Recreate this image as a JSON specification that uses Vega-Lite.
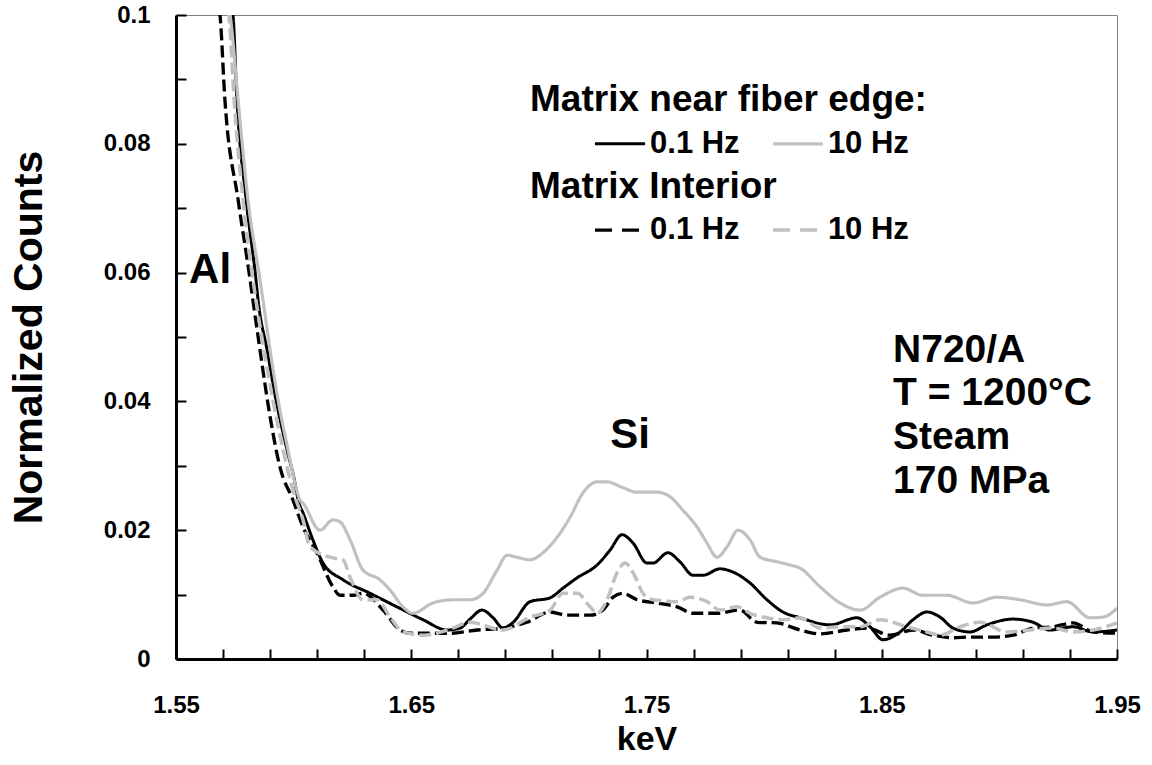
{
  "$schema": "https://vega.github.io/schema/vega-lite/v6.json",
  "width": 941,
  "height": 644,
  "autosize": "none",
  "padding": {"left": 176, "top": 15, "right": 35, "bottom": 106},
  "background": "white",
  "config": {
    "view": {"stroke": "#808080", "strokeWidth": 1},
    "font": "Liberation Sans",
    "axis": {"grid": false}
  },
  "datasets": {
    "spectra": [
      {"series": "e01", "keV": 1.5721, "counts": 0.1031},
      {"series": "e01", "keV": 1.5742, "counts": 0.1000},
      {"series": "e01", "keV": 1.5759, "counts": 0.0868},
      {"series": "e01", "keV": 1.5798, "counts": 0.0713},
      {"series": "e01", "keV": 1.5840, "counts": 0.0589},
      {"series": "e01", "keV": 1.5849, "counts": 0.0557},
      {"series": "e01", "keV": 1.5887, "counts": 0.0480},
      {"series": "e01", "keV": 1.5925, "counts": 0.0402},
      {"series": "e01", "keV": 1.5972, "counts": 0.0325},
      {"series": "e01", "keV": 1.6006, "counts": 0.0273},
      {"series": "e01", "keV": 1.6019, "counts": 0.0247},
      {"series": "e01", "keV": 1.6040, "counts": 0.0227},
      {"series": "e01", "keV": 1.6082, "counts": 0.0185},
      {"series": "e01", "keV": 1.6125, "counts": 0.0149},
      {"series": "e01", "keV": 1.6210, "counts": 0.0123},
      {"series": "e01", "keV": 1.6325, "counts": 0.0102},
      {"series": "e01", "keV": 1.6439, "counts": 0.0081},
      {"series": "e01", "keV": 1.6550, "counts": 0.0061},
      {"series": "e01", "keV": 1.6652, "counts": 0.0045},
      {"series": "e01", "keV": 1.6707, "counts": 0.0048},
      {"series": "e01", "keV": 1.6750, "counts": 0.0062},
      {"series": "e01", "keV": 1.6801, "counts": 0.0076},
      {"series": "e01", "keV": 1.6848, "counts": 0.0064},
      {"series": "e01", "keV": 1.6890, "counts": 0.0048},
      {"series": "e01", "keV": 1.6933, "counts": 0.0057},
      {"series": "e01", "keV": 1.7005, "counts": 0.0089},
      {"series": "e01", "keV": 1.7090, "counts": 0.0095},
      {"series": "e01", "keV": 1.7145, "counts": 0.0110},
      {"series": "e01", "keV": 1.7205, "counts": 0.0126},
      {"series": "e01", "keV": 1.7290, "counts": 0.0146},
      {"series": "e01", "keV": 1.7345, "counts": 0.0169},
      {"series": "e01", "keV": 1.7396, "counts": 0.0193},
      {"series": "e01", "keV": 1.7443, "counts": 0.0180},
      {"series": "e01", "keV": 1.7502, "counts": 0.0149},
      {"series": "e01", "keV": 1.7528, "counts": 0.0149},
      {"series": "e01", "keV": 1.7591, "counts": 0.0165},
      {"series": "e01", "keV": 1.7642, "counts": 0.0151},
      {"series": "e01", "keV": 1.7698, "counts": 0.0130},
      {"series": "e01", "keV": 1.7740, "counts": 0.0130},
      {"series": "e01", "keV": 1.7812, "counts": 0.0140},
      {"series": "e01", "keV": 1.7868, "counts": 0.0135},
      {"series": "e01", "keV": 1.7940, "counts": 0.0118},
      {"series": "e01", "keV": 1.8012, "counts": 0.0092},
      {"series": "e01", "keV": 1.8080, "counts": 0.0073},
      {"series": "e01", "keV": 1.8153, "counts": 0.0064},
      {"series": "e01", "keV": 1.8280, "counts": 0.0053},
      {"series": "e01", "keV": 1.8395, "counts": 0.0064},
      {"series": "e01", "keV": 1.8450, "counts": 0.0050},
      {"series": "e01", "keV": 1.8505, "counts": 0.0030},
      {"series": "e01", "keV": 1.8578, "counts": 0.0042},
      {"series": "e01", "keV": 1.8633, "counts": 0.0061},
      {"series": "e01", "keV": 1.8692, "counts": 0.0073},
      {"series": "e01", "keV": 1.8748, "counts": 0.0065},
      {"series": "e01", "keV": 1.8803, "counts": 0.0048},
      {"series": "e01", "keV": 1.8875, "counts": 0.0042},
      {"series": "e01", "keV": 1.8947, "counts": 0.0053},
      {"series": "e01", "keV": 1.9058, "counts": 0.0062},
      {"series": "e01", "keV": 1.9143, "counts": 0.0057},
      {"series": "e01", "keV": 1.9215, "counts": 0.0045},
      {"series": "e01", "keV": 1.9313, "counts": 0.0050},
      {"series": "e01", "keV": 1.9398, "counts": 0.0042},
      {"series": "e01", "keV": 1.9500, "counts": 0.0045},

      {"series": "e10", "keV": 1.5713, "counts": 0.1031},
      {"series": "e10", "keV": 1.5730, "counts": 0.1000},
      {"series": "e10", "keV": 1.5764, "counts": 0.0868},
      {"series": "e10", "keV": 1.5806, "counts": 0.0713},
      {"series": "e10", "keV": 1.5857, "counts": 0.0589},
      {"series": "e10", "keV": 1.5870, "counts": 0.0557},
      {"series": "e10", "keV": 1.5900, "counts": 0.0480},
      {"series": "e10", "keV": 1.5934, "counts": 0.0402},
      {"series": "e10", "keV": 1.5976, "counts": 0.0325},
      {"series": "e10", "keV": 1.6006, "counts": 0.0273},
      {"series": "e10", "keV": 1.6027, "counts": 0.0247},
      {"series": "e10", "keV": 1.6040, "counts": 0.0242},
      {"series": "e10", "keV": 1.6112, "counts": 0.0200},
      {"series": "e10", "keV": 1.6167, "counts": 0.0216},
      {"series": "e10", "keV": 1.6197, "counts": 0.0213},
      {"series": "e10", "keV": 1.6240, "counts": 0.0185},
      {"series": "e10", "keV": 1.6295, "counts": 0.0138},
      {"series": "e10", "keV": 1.6367, "counts": 0.0123},
      {"series": "e10", "keV": 1.6410, "counts": 0.0107},
      {"series": "e10", "keV": 1.6465, "counts": 0.0081},
      {"series": "e10", "keV": 1.6507, "counts": 0.0071},
      {"series": "e10", "keV": 1.6592, "counts": 0.0087},
      {"series": "e10", "keV": 1.6677, "counts": 0.0092},
      {"series": "e10", "keV": 1.6750, "counts": 0.0092},
      {"series": "e10", "keV": 1.6805, "counts": 0.0102},
      {"series": "e10", "keV": 1.6865, "counts": 0.0138},
      {"series": "e10", "keV": 1.6907, "counts": 0.0161},
      {"series": "e10", "keV": 1.6950, "counts": 0.0158},
      {"series": "e10", "keV": 1.7005, "counts": 0.0154},
      {"series": "e10", "keV": 1.7060, "counts": 0.0165},
      {"series": "e10", "keV": 1.7120, "counts": 0.0189},
      {"series": "e10", "keV": 1.7175, "counts": 0.0220},
      {"series": "e10", "keV": 1.7230, "counts": 0.0258},
      {"series": "e10", "keV": 1.7290, "counts": 0.0275},
      {"series": "e10", "keV": 1.7332, "counts": 0.0275},
      {"series": "e10", "keV": 1.7400, "counts": 0.0266},
      {"series": "e10", "keV": 1.7460, "counts": 0.0259},
      {"series": "e10", "keV": 1.7545, "counts": 0.0259},
      {"series": "e10", "keV": 1.7600, "counts": 0.0252},
      {"series": "e10", "keV": 1.7655, "counts": 0.0231},
      {"series": "e10", "keV": 1.7715, "counts": 0.0205},
      {"series": "e10", "keV": 1.7757, "counts": 0.0180},
      {"series": "e10", "keV": 1.7800, "counts": 0.0158},
      {"series": "e10", "keV": 1.7842, "counts": 0.0174},
      {"series": "e10", "keV": 1.7889, "counts": 0.0200},
      {"series": "e10", "keV": 1.7940, "counts": 0.0185},
      {"series": "e10", "keV": 1.7983, "counts": 0.0158},
      {"series": "e10", "keV": 1.8055, "counts": 0.0151},
      {"series": "e10", "keV": 1.8110, "counts": 0.0146},
      {"series": "e10", "keV": 1.8153, "counts": 0.0141},
      {"series": "e10", "keV": 1.8238, "counts": 0.0112},
      {"series": "e10", "keV": 1.8323, "counts": 0.0087},
      {"series": "e10", "keV": 1.8408, "counts": 0.0076},
      {"series": "e10", "keV": 1.8493, "counts": 0.0096},
      {"series": "e10", "keV": 1.8590, "counts": 0.0110},
      {"series": "e10", "keV": 1.8675, "counts": 0.0099},
      {"series": "e10", "keV": 1.8777, "counts": 0.0099},
      {"series": "e10", "keV": 1.8888, "counts": 0.0087},
      {"series": "e10", "keV": 1.8990, "counts": 0.0096},
      {"series": "e10", "keV": 1.9088, "counts": 0.0092},
      {"series": "e10", "keV": 1.9203, "counts": 0.0084},
      {"series": "e10", "keV": 1.9287, "counts": 0.0089},
      {"series": "e10", "keV": 1.9385, "counts": 0.0064},
      {"series": "e10", "keV": 1.9441, "counts": 0.0065},
      {"series": "e10", "keV": 1.9500, "counts": 0.0079},

      {"series": "i01", "keV": 1.5670, "counts": 0.1031},
      {"series": "i01", "keV": 1.5687, "counts": 0.1000},
      {"series": "i01", "keV": 1.5708, "counts": 0.0868},
      {"series": "i01", "keV": 1.5764, "counts": 0.0713},
      {"series": "i01", "keV": 1.5815, "counts": 0.0589},
      {"series": "i01", "keV": 1.5827, "counts": 0.0557},
      {"series": "i01", "keV": 1.5857, "counts": 0.0480},
      {"series": "i01", "keV": 1.5900, "counts": 0.0376},
      {"series": "i01", "keV": 1.5942, "counts": 0.0298},
      {"series": "i01", "keV": 1.5997, "counts": 0.0247},
      {"series": "i01", "keV": 1.6040, "counts": 0.0205},
      {"series": "i01", "keV": 1.6099, "counts": 0.0165},
      {"series": "i01", "keV": 1.6167, "counts": 0.0112},
      {"series": "i01", "keV": 1.6197, "counts": 0.0099},
      {"series": "i01", "keV": 1.6252, "counts": 0.0099},
      {"series": "i01", "keV": 1.6295, "counts": 0.0102},
      {"series": "i01", "keV": 1.6380, "counts": 0.0076},
      {"series": "i01", "keV": 1.6452, "counts": 0.0045},
      {"series": "i01", "keV": 1.6495, "counts": 0.0040},
      {"series": "i01", "keV": 1.6550, "counts": 0.0040},
      {"series": "i01", "keV": 1.6665, "counts": 0.0040},
      {"series": "i01", "keV": 1.6780, "counts": 0.0045},
      {"series": "i01", "keV": 1.6890, "counts": 0.0048},
      {"series": "i01", "keV": 1.6992, "counts": 0.0057},
      {"series": "i01", "keV": 1.7090, "counts": 0.0073},
      {"series": "i01", "keV": 1.7162, "counts": 0.0068},
      {"series": "i01", "keV": 1.7260, "counts": 0.0068},
      {"series": "i01", "keV": 1.7315, "counts": 0.0076},
      {"series": "i01", "keV": 1.7358, "counts": 0.0096},
      {"series": "i01", "keV": 1.7400, "counts": 0.0102},
      {"series": "i01", "keV": 1.7460, "counts": 0.0092},
      {"series": "i01", "keV": 1.7545, "counts": 0.0087},
      {"series": "i01", "keV": 1.7630, "counts": 0.0081},
      {"series": "i01", "keV": 1.7698, "counts": 0.0071},
      {"series": "i01", "keV": 1.7800, "counts": 0.0071},
      {"series": "i01", "keV": 1.7897, "counts": 0.0076},
      {"series": "i01", "keV": 1.7970, "counts": 0.0057},
      {"series": "i01", "keV": 1.8055, "counts": 0.0056},
      {"series": "i01", "keV": 1.8153, "counts": 0.0045},
      {"series": "i01", "keV": 1.8238, "counts": 0.0039},
      {"series": "i01", "keV": 1.8352, "counts": 0.0045},
      {"series": "i01", "keV": 1.8437, "counts": 0.0048},
      {"series": "i01", "keV": 1.8535, "counts": 0.0037},
      {"series": "i01", "keV": 1.8633, "counts": 0.0045},
      {"series": "i01", "keV": 1.8718, "counts": 0.0037},
      {"series": "i01", "keV": 1.8803, "counts": 0.0033},
      {"series": "i01", "keV": 1.8875, "counts": 0.0034},
      {"series": "i01", "keV": 1.8973, "counts": 0.0034},
      {"series": "i01", "keV": 1.9058, "counts": 0.0037},
      {"series": "i01", "keV": 1.9143, "counts": 0.0048},
      {"series": "i01", "keV": 1.9228, "counts": 0.0050},
      {"series": "i01", "keV": 1.9313, "counts": 0.0056},
      {"series": "i01", "keV": 1.9398, "counts": 0.0042},
      {"series": "i01", "keV": 1.9500, "counts": 0.0040},

      {"series": "i10", "keV": 1.5708, "counts": 0.1031},
      {"series": "i10", "keV": 1.5725, "counts": 0.1000},
      {"series": "i10", "keV": 1.5747, "counts": 0.0868},
      {"series": "i10", "keV": 1.5785, "counts": 0.0713},
      {"series": "i10", "keV": 1.5827, "counts": 0.0589},
      {"series": "i10", "keV": 1.5840, "counts": 0.0557},
      {"series": "i10", "keV": 1.5874, "counts": 0.0480},
      {"series": "i10", "keV": 1.5912, "counts": 0.0402},
      {"series": "i10", "keV": 1.5955, "counts": 0.0325},
      {"series": "i10", "keV": 1.5997, "counts": 0.0262},
      {"series": "i10", "keV": 1.6040, "counts": 0.0216},
      {"series": "i10", "keV": 1.6070, "counts": 0.0174},
      {"series": "i10", "keV": 1.6167, "counts": 0.0157},
      {"series": "i10", "keV": 1.6210, "counts": 0.0154},
      {"series": "i10", "keV": 1.6240, "counts": 0.0127},
      {"series": "i10", "keV": 1.6295, "counts": 0.0092},
      {"series": "i10", "keV": 1.6354, "counts": 0.0092},
      {"series": "i10", "keV": 1.6410, "counts": 0.0065},
      {"series": "i10", "keV": 1.6465, "counts": 0.0042},
      {"series": "i10", "keV": 1.6550, "counts": 0.0037},
      {"series": "i10", "keV": 1.6609, "counts": 0.0040},
      {"series": "i10", "keV": 1.6677, "counts": 0.0048},
      {"series": "i10", "keV": 1.6750, "counts": 0.0057},
      {"series": "i10", "keV": 1.6890, "counts": 0.0045},
      {"series": "i10", "keV": 1.7005, "counts": 0.0065},
      {"series": "i10", "keV": 1.7090, "counts": 0.0076},
      {"series": "i10", "keV": 1.7145, "counts": 0.0102},
      {"series": "i10", "keV": 1.7205, "counts": 0.0102},
      {"series": "i10", "keV": 1.7260, "counts": 0.0081},
      {"series": "i10", "keV": 1.7290, "counts": 0.0071},
      {"series": "i10", "keV": 1.7332, "counts": 0.0092},
      {"series": "i10", "keV": 1.7375, "counts": 0.0134},
      {"series": "i10", "keV": 1.7409, "counts": 0.0149},
      {"series": "i10", "keV": 1.7443, "counts": 0.0134},
      {"series": "i10", "keV": 1.7485, "counts": 0.0102},
      {"series": "i10", "keV": 1.7528, "counts": 0.0092},
      {"series": "i10", "keV": 1.7630, "counts": 0.0089},
      {"series": "i10", "keV": 1.7685, "counts": 0.0096},
      {"series": "i10", "keV": 1.7757, "counts": 0.0089},
      {"series": "i10", "keV": 1.7812, "counts": 0.0076},
      {"series": "i10", "keV": 1.7885, "counts": 0.0081},
      {"series": "i10", "keV": 1.7940, "counts": 0.0071},
      {"series": "i10", "keV": 1.8012, "counts": 0.0064},
      {"series": "i10", "keV": 1.8080, "counts": 0.0061},
      {"series": "i10", "keV": 1.8153, "counts": 0.0064},
      {"series": "i10", "keV": 1.8238, "counts": 0.0048},
      {"series": "i10", "keV": 1.8323, "counts": 0.0050},
      {"series": "i10", "keV": 1.8408, "counts": 0.0050},
      {"series": "i10", "keV": 1.8493, "counts": 0.0061},
      {"series": "i10", "keV": 1.8607, "counts": 0.0050},
      {"series": "i10", "keV": 1.8692, "counts": 0.0042},
      {"series": "i10", "keV": 1.8748, "counts": 0.0037},
      {"series": "i10", "keV": 1.8833, "counts": 0.0050},
      {"series": "i10", "keV": 1.8918, "counts": 0.0057},
      {"series": "i10", "keV": 1.9032, "counts": 0.0042},
      {"series": "i10", "keV": 1.9130, "counts": 0.0045},
      {"series": "i10", "keV": 1.9228, "counts": 0.0048},
      {"series": "i10", "keV": 1.9313, "counts": 0.0042},
      {"series": "i10", "keV": 1.9398, "counts": 0.0045},
      {"series": "i10", "keV": 1.9500, "counts": 0.0056}
    ],
    "legendLines": [
      {"series": "e01", "keV": 1.7281, "keV2": 1.7494, "counts": 0.0800},
      {"series": "e10", "keV": 1.8038, "keV2": 1.8250, "counts": 0.0800},
      {"series": "i01", "keV": 1.7281, "keV2": 1.7494, "counts": 0.0666},
      {"series": "i10", "keV": 1.8038, "keV2": 1.8250, "counts": 0.0666}
    ],
    "headers": [
      {"label": "Matrix near fiber edge:", "keV": 1.7005, "counts": 0.0868},
      {"label": "Matrix Interior", "keV": 1.7005, "counts": 0.0733}
    ],
    "items": [
      {"label": "0.1 Hz", "keV": 1.7515, "counts": 0.0800},
      {"label": "10 Hz", "keV": 1.8271, "counts": 0.0800},
      {"label": "0.1 Hz", "keV": 1.7515, "counts": 0.0666},
      {"label": "10 Hz", "keV": 1.8271, "counts": 0.0666}
    ],
    "conditions": [
      {"label": "N720/A", "keV": 1.8548, "counts": 0.0480},
      {"label": "T = 1200°C", "keV": 1.8548, "counts": 0.0413},
      {"label": "Steam", "keV": 1.8548, "counts": 0.0345},
      {"label": "170 MPa", "keV": 1.8548, "counts": 0.0276}
    ],
    "elements": [
      {"label": "Al", "keV": 1.5645, "counts": 0.0604},
      {"label": "Si", "keV": 1.7430, "counts": 0.0348}
    ]
  },
  "layer": [
    {
      "data": {"name": "spectra"},
      "mark": {"type": "line", "clip": true, "interpolate": "monotone"},
      "encoding": {
        "x": {
          "field": "keV", "type": "quantitative",
          "scale": {"domain": [1.55, 1.95], "nice": false, "zero": false},
          "axis": {
            "title": "keV",
            "values": [1.55, 1.57, 1.59, 1.61, 1.63, 1.65, 1.67, 1.69, 1.71, 1.73, 1.75, 1.77, 1.79, 1.81, 1.83, 1.85, 1.87, 1.89, 1.91, 1.93, 1.95],
            "labelExpr": "round(datum.value*100) % 10 == 5 ? format(datum.value, '.2f') : ''",
            "labelFont": "Liberation Sans", "labelFontWeight": "bold", "labelFontSize": 24, "labelColor": "black",
            "labelPadding": 44, "labelFlush": false, "labelOverlap": false,
            "tickSize": -10, "tickWidth": 2, "tickColor": "black",
            "domainColor": "black", "domainWidth": 3,
            "titleFont": "Liberation Sans", "titleFontWeight": "bold", "titleFontSize": 34, "titleColor": "black",
            "titlePadding": 5
          }
        },
        "y": {
          "field": "counts", "type": "quantitative",
          "scale": {"domain": [0, 0.1], "nice": false},
          "axis": {
            "title": "Normalized Counts",
            "values": [0, 0.01, 0.02, 0.03, 0.04, 0.05, 0.06, 0.07, 0.08, 0.09, 0.1],
            "labelExpr": "round(datum.value*100) % 2 == 0 ? format(datum.value, '.2~f') : ''",
            "labelFont": "Liberation Sans", "labelFontWeight": "bold", "labelFontSize": 24, "labelColor": "black",
            "labelPadding": 36, "labelFlush": false, "labelOverlap": false,
            "tickSize": -10, "tickWidth": 2, "tickColor": "black",
            "domainColor": "black", "domainWidth": 3,
            "titleFont": "Liberation Sans", "titleFontWeight": "bold", "titleFontSize": 41, "titleColor": "black",
            "titlePadding": 53
          }
        },
        "color": {
          "field": "series", "type": "nominal",
          "scale": {"domain": ["e01", "e10", "i01", "i10"], "range": ["#000000", "#c0c0c0", "#000000", "#c0c0c0"]},
          "legend": null
        },
        "strokeDash": {
          "field": "series", "type": "nominal",
          "scale": {"domain": ["e01", "e10", "i01", "i10"], "range": [[1, 0], [1, 0], [12, 5], [12, 5]]},
          "legend": null
        },
        "strokeWidth": {
          "field": "series", "type": "nominal",
          "scale": {"domain": ["e01", "e10", "i01", "i10"], "range": [3, 3.5, 2, 2.5]},
          "legend": null
        }
      }
    },
    {
      "data": {"name": "legendLines"},
      "transform": [{"filter": "datum.series == 'e01' || datum.series == 'e10'"}],
      "mark": {"type": "rule"},
      "encoding": {
        "x": {"field": "keV", "type": "quantitative"},
        "x2": {"field": "keV2"},
        "y": {"field": "counts", "type": "quantitative"},
        "color": {"field": "series", "type": "nominal", "legend": null},
        "strokeWidth": {"field": "series", "type": "nominal", "legend": null}
      }
    },
    {
      "data": {"name": "legendLines"},
      "transform": [{"filter": "datum.series == 'i01' || datum.series == 'i10'"}],
      "mark": {"type": "rule", "strokeDash": [17, 10]},
      "encoding": {
        "x": {"field": "keV", "type": "quantitative"},
        "x2": {"field": "keV2"},
        "y": {"field": "counts", "type": "quantitative"},
        "color": {"field": "series", "type": "nominal", "legend": null},
        "strokeWidth": {"field": "series", "type": "nominal", "legend": null}
      }
    },
    {
      "data": {"name": "headers"},
      "mark": {"type": "text", "align": "left", "baseline": "middle", "font": "Liberation Sans", "fontWeight": "bold", "fontSize": 37, "color": "black"},
      "encoding": {
        "x": {"field": "keV", "type": "quantitative"},
        "y": {"field": "counts", "type": "quantitative"},
        "text": {"field": "label"}
      }
    },
    {
      "data": {"name": "items"},
      "mark": {"type": "text", "align": "left", "baseline": "middle", "font": "Liberation Sans", "fontWeight": "bold", "fontSize": 31, "color": "black"},
      "encoding": {
        "x": {"field": "keV", "type": "quantitative"},
        "y": {"field": "counts", "type": "quantitative"},
        "text": {"field": "label"}
      }
    },
    {
      "data": {"name": "conditions"},
      "mark": {"type": "text", "align": "left", "baseline": "middle", "font": "Liberation Sans", "fontWeight": "bold", "fontSize": 39, "color": "black"},
      "encoding": {
        "x": {"field": "keV", "type": "quantitative"},
        "y": {"field": "counts", "type": "quantitative"},
        "text": {"field": "label"}
      }
    },
    {
      "data": {"name": "elements"},
      "mark": {"type": "text", "align": "center", "baseline": "middle", "font": "Liberation Sans", "fontWeight": "bold", "fontSize": 42, "color": "black"},
      "encoding": {
        "x": {"field": "keV", "type": "quantitative"},
        "y": {"field": "counts", "type": "quantitative"},
        "text": {"field": "label"}
      }
    }
  ]
}
